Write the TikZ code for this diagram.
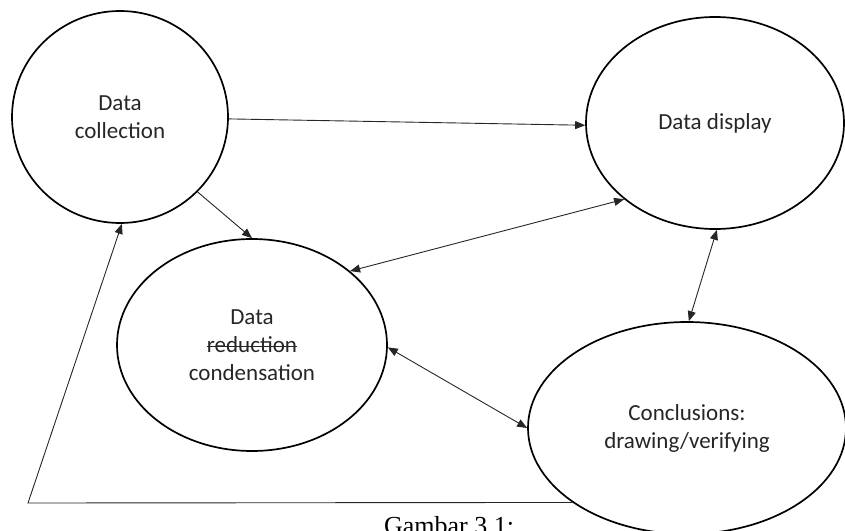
\documentclass[tikz,border=0pt]{standalone}
\usepackage{fontspec}
\setmainfont{Carlito}
\newfontfamily\capfont{Liberation Serif}
\newsavebox\strkbox
\newcommand\strikeword[1]{\sbox\strkbox{#1}\rlap{\usebox\strkbox}\rule[0.5ex]{\wd\strkbox}{1pt}}
\usetikzlibrary{shapes.geometric,arrows.meta}
\begin{document}
\begin{tikzpicture}[x=1pt,y=-1pt,
  stage/.style={ellipse,draw,line width=1.7pt,inner sep=0pt,align=center,
    font=\fontsize{23}{28}\selectfont,text=black!85},
  conn/.style={line width=0.9pt,draw=black!85},
  tip/.style={-{Triangle[length=10pt,width=8pt]}},
  bitip/.style={{Triangle[length=10pt,width=8pt]}-{Triangle[length=10pt,width=8pt]}}]
\useasboundingbox (0,0) rectangle (845,530);
\node[stage,minimum width=216pt,minimum height=212pt] (coll) at (120,117) {Data\\collection};
\node[stage,minimum width=258pt,minimum height=212pt] (disp) at (715,123) {Data display};
\node[stage,minimum width=270pt,minimum height=212pt] (red) at (252,345) {Data\\\strikeword{reduction}\\condensation};
\node[stage,minimum width=318pt,minimum height=212pt] (conc) at (687,428) {Conclusions:\\drawing/verifying};
\draw[conn,tip] (coll.-1) -- (disp.181);
\draw[conn,tip] (coll.-44) -- (red.90);
\draw[conn,bitip] (disp.220) -- (red.37);
\draw[conn,bitip] (disp.-89) -- (conc.89);
\draw[conn,bitip] (red.-1) -- (conc.180);
\coordinate (fb) at (28,503);
\draw[conn,tip] (conc.213) -- (fb) -- (coll.-89.5);
\node[font=\capfont\fontsize{26}{30}\selectfont,anchor=base] (cap) at (449,534) {Gambar 3.1:};
\end{tikzpicture}
\end{document}
